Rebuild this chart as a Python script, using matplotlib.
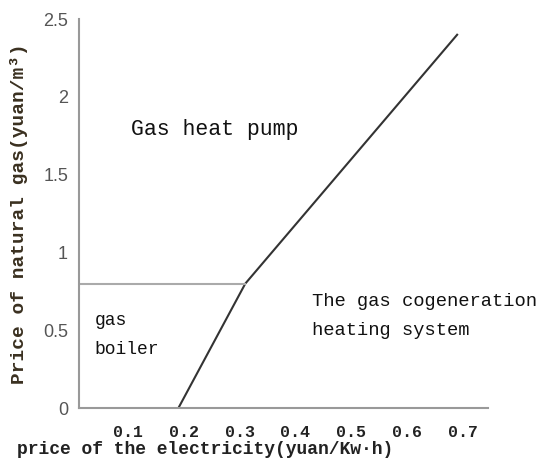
import matplotlib
matplotlib.use("Agg")
import matplotlib.pyplot as plt

# boundary between regions (electricity price vs natural gas price)
boundary_x = [0.19, 0.31, 0.69]
boundary_y = [0.0, 0.8, 2.4]
boiler_x = [0.0, 0.31]
boiler_y = [0.8, 0.8]

xticks = [0.1, 0.2, 0.3, 0.4, 0.5, 0.6, 0.7]
yticks = [0, 0.5, 1, 1.5, 2, 2.5]
ytick_labels = ["0", "0.5", "1", "1.5", "2", "2.5"]

mono = "Liberation Mono"

fig = plt.figure(figsize=(5.42, 4.68), dpi=100)
ax = fig.add_axes([0.146, 0.128, 0.754, 0.831])

ax.plot(boundary_x, boundary_y, color="#333333", lw=1.5)
ax.plot(boiler_x, boiler_y, color="#aaaaaa", lw=1.5)

ax.set_xlim(0.012, 0.745)
ax.set_ylim(0, 2.49)

ax.spines["top"].set_visible(False)
ax.spines["right"].set_visible(False)
ax.spines["left"].set_color("#999999")
ax.spines["bottom"].set_color("#999999")
ax.spines["left"].set_linewidth(1.5)
ax.spines["bottom"].set_linewidth(1.5)

ax.set_xticks(xticks)
ax.set_xticklabels([str(t) for t in xticks], fontfamily=mono, fontweight="bold",
                   fontsize=12, color="#222222")
ax.set_yticks(yticks)
ax.set_yticklabels(ytick_labels, fontfamily="Liberation Sans", fontsize=13,
                   color="#555555")
ax.tick_params(axis="both", length=0)
ax.tick_params(axis="x", pad=12)
ax.tick_params(axis="y", pad=8)

ax.set_xlabel("price of the electricity(yuan/Kw\u00b7h)", fontfamily=mono,
              fontsize=13, fontweight="bold", color="#222222")
ax.set_ylabel("Price of natural gas(yuan/m\u00b3)", fontfamily=mono,
              fontsize=14, fontweight="bold", color="#3a3020")
ax.xaxis.set_label_coords(0.308, -0.085)
ax.yaxis.set_label_coords(-0.125, 0.5)

ax.text(0.105, 1.79, "Gas heat pump", fontfamily=mono, fontsize=15.5, color="#111111",
        va="center")
ax.text(0.04, 0.47, "gas\nboiler", fontfamily=mono, fontsize=13, color="#111111",
        va="center", linespacing=1.9)
ax.text(0.43, 0.59, "The gas cogeneration\nheating system", fontfamily=mono,
        fontsize=13.5, color="#111111", va="center", linespacing=1.9)

fig.savefig("out.png", dpi=100)
